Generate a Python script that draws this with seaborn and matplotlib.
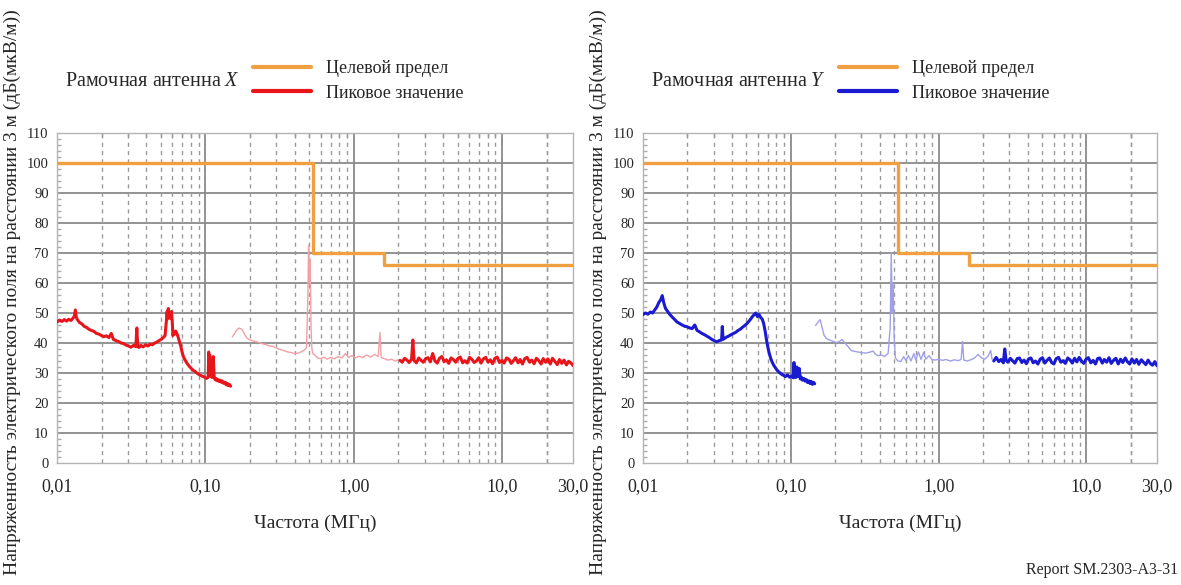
import numpy as np
import pandas as pd
import matplotlib
matplotlib.use("Agg")
import matplotlib.pyplot as plt
from matplotlib.ticker import FixedLocator, NullFormatter, MultipleLocator
import seaborn as sns

sns.set_theme(style="white")
plt.rcParams["font.family"] = ["Liberation Serif", "DejaVu Serif"]
plt.rcParams["mathtext.fontset"] = "custom"
plt.rcParams["mathtext.rm"] = "Liberation Serif"
plt.rcParams["mathtext.it"] = "Liberation Serif:italic"

# ---------------- data ----------------
# Target limit (step function), MHz / dB(uV/m)
limit_freq = [0.01, 0.53, 1.6, 30.0]
limit_level = [100, 70, 66, 66]

# Loop antenna X, peak values
x_lf_freq = [0.0100, 0.0104, 0.0108, 0.0112, 0.0116, 0.0120, 0.0124, 0.0128, 0.0131, 0.0133,
             0.0135, 0.0138, 0.0142, 0.0147, 0.0152, 0.0158, 0.0164, 0.0170, 0.0177, 0.0184,
             0.0191, 0.0199, 0.0207, 0.0215, 0.0224, 0.0232, 0.0240, 0.0250, 0.0260, 0.0270,
             0.0281, 0.0292, 0.0303, 0.0315, 0.0328, 0.0340, 0.0345, 0.0350, 0.0356, 0.0368,
             0.0380, 0.0395, 0.0410, 0.0425, 0.0440, 0.0455, 0.0470, 0.0487, 0.0503, 0.0520,
             0.0535, 0.0545, 0.0552, 0.0556, 0.0562, 0.0568, 0.0575, 0.0582, 0.0590, 0.0598,
             0.0604, 0.0612, 0.0620, 0.0630, 0.0642, 0.0655, 0.0668, 0.0682, 0.0696, 0.0710,
             0.0725, 0.0740, 0.0757, 0.0775, 0.0793, 0.0812, 0.0832, 0.0853, 0.0875, 0.0898,
             0.0921, 0.0945, 0.0970, 0.0995, 0.1020, 0.1045, 0.1052, 0.1060, 0.1068, 0.1090,
             0.1110, 0.1130, 0.1145, 0.1160, 0.1175, 0.1190, 0.1210, 0.1230, 0.1250, 0.1270,
             0.1290, 0.1310, 0.1330, 0.1350, 0.1370, 0.1390, 0.1410, 0.1430, 0.1450, 0.1480]
x_lf_level = [47.0, 47.6, 47.2, 47.8, 47.3, 47.9, 47.5, 48.2, 49.0, 51.0,
              48.5, 47.6, 46.8, 46.4, 45.6, 45.2, 44.6, 44.2, 43.9, 43.2,
              43.0, 42.5, 42.1, 42.4, 41.8, 43.2, 41.2, 40.8, 40.5, 40.0,
              39.8, 39.3, 39.0, 38.6, 39.2, 38.8, 45.0, 39.0, 38.5, 39.2,
              38.7, 39.4, 39.0, 39.6, 39.4, 40.0, 40.3, 40.8, 41.2, 41.8,
              42.5, 47.0, 50.5, 48.0, 51.5, 48.5, 50.0, 48.2, 50.5, 47.0,
              42.5, 43.5, 43.0, 44.0, 43.2, 42.0, 40.5, 39.0, 37.0, 35.5,
              34.6, 33.8, 33.0, 32.4, 31.8, 31.3, 30.8, 30.5, 30.0, 29.6,
              29.3, 29.0, 28.8, 28.5, 28.2, 28.6, 37.0, 30.0, 36.0, 29.0,
              28.5, 35.5, 29.0, 27.8, 28.2, 27.5, 27.9, 27.2, 27.6, 27.0,
              27.4, 26.7, 27.0, 26.4, 26.8, 26.0, 26.5, 25.8, 26.2, 25.6]

x_mf_freq = [0.152, 0.160, 0.168, 0.176, 0.184, 0.192, 0.200, 0.212, 0.225, 0.240,
             0.255, 0.270, 0.285, 0.300, 0.320, 0.340, 0.360, 0.380, 0.400, 0.420,
             0.440, 0.460, 0.480, 0.490, 0.496, 0.502, 0.508, 0.515, 0.522, 0.530,
             0.550, 0.570, 0.600, 0.630, 0.660, 0.700, 0.740, 0.780, 0.830, 0.880,
             0.920, 0.970, 1.020, 1.080, 1.150, 1.220, 1.300, 1.380, 1.460, 1.500,
             1.530, 1.600, 1.700, 1.800, 1.900, 2.000]
x_mf_level = [42.0, 43.8, 45.0, 44.6, 42.8, 41.5, 41.0, 40.6, 40.3, 39.8,
              39.5, 39.0, 38.9, 38.4, 37.8, 37.4, 37.0, 36.8, 36.5, 36.6,
              37.0, 37.5, 38.5, 55.0, 72.5, 60.0, 68.0, 45.0, 38.0, 36.5,
              35.8, 35.0, 34.8, 35.3, 34.6, 35.2, 34.7, 35.5, 35.0, 36.5,
              35.2, 35.8, 35.0, 35.6, 35.2, 36.0, 35.3, 36.2, 35.5, 43.5,
              35.2, 34.8, 34.3, 34.6, 34.0, 34.4]

x_hf_freq = [2.05, 2.12, 2.20, 2.28, 2.36, 2.45, 2.50, 2.55, 2.64, 2.74,
             2.84, 2.94, 3.05, 3.16, 3.28, 3.40, 3.52, 3.65, 3.78, 3.92,
             4.06, 4.21, 4.36, 4.52, 4.69, 4.86, 5.04, 5.22, 5.41, 5.61,
             5.81, 6.02, 6.24, 6.47, 6.71, 6.95, 7.20, 7.47, 7.74, 8.02,
             8.31, 8.61, 8.93, 9.25, 9.59, 9.94, 10.3, 10.7, 11.1, 11.5,
             11.9, 12.3, 12.8, 13.2, 13.7, 14.2, 14.7, 15.3, 15.8, 16.4,
             17.0, 17.6, 18.3, 18.9, 19.6, 20.3, 21.1, 21.8, 22.6, 23.5,
             24.3, 25.2, 26.1, 27.1, 28.0, 29.0, 30.0]
x_hf_level = [34.2, 33.6, 34.9, 34.3, 33.5, 34.6, 41.0, 34.1, 33.4, 35.0,
              34.2, 33.6, 34.8, 35.1, 33.7, 36.5, 34.0, 33.3, 34.9, 35.5,
              33.8, 34.4, 33.2, 35.0, 34.5, 33.6, 34.9, 35.3, 33.4, 34.1,
              33.3, 35.2, 34.6, 33.5, 34.0, 35.1, 33.3, 34.7, 35.2, 33.6,
              34.4, 33.1, 34.9, 35.3, 33.5, 34.2, 33.3, 35.0, 34.6, 33.2,
              34.1, 35.1, 33.4, 34.5, 33.0, 34.8, 35.2, 33.6, 34.3, 33.1,
              34.9, 34.2, 33.0, 34.8, 33.6, 34.7, 33.0, 34.9, 33.9, 32.8,
              34.5, 33.2, 34.3, 32.7, 33.9, 33.4, 32.5]

# Loop antenna Y, peak values
y_lf_freq = [0.0100, 0.0104, 0.0108, 0.0112, 0.0116, 0.0120, 0.0124, 0.0128, 0.0132, 0.0135,
             0.0138, 0.0142, 0.0147, 0.0152, 0.0158, 0.0164, 0.0170, 0.0177, 0.0184, 0.0191,
             0.0199, 0.0207, 0.0215, 0.0224, 0.0232, 0.0240, 0.0250, 0.0260, 0.0270, 0.0281,
             0.0292, 0.0303, 0.0315, 0.0328, 0.0340, 0.0344, 0.0348, 0.0356, 0.0368, 0.0380,
             0.0395, 0.0410, 0.0425, 0.0440, 0.0455, 0.0470, 0.0487, 0.0503, 0.0520, 0.0535,
             0.0550, 0.0565, 0.0580, 0.0595, 0.0610, 0.0625, 0.0640, 0.0655, 0.0670, 0.0685,
             0.0700, 0.0715, 0.0730, 0.0745, 0.0762, 0.0780, 0.0800, 0.0820, 0.0845, 0.0870,
             0.0895, 0.0920, 0.0950, 0.0980, 0.1010, 0.1040, 0.1050, 0.1060, 0.1080, 0.1100,
             0.1120, 0.1140, 0.1160, 0.1180, 0.1200, 0.1225, 0.1250, 0.1275, 0.1300, 0.1325,
             0.1350, 0.1375, 0.1400, 0.1425, 0.1450]
y_lf_level = [49.5, 50.0, 49.6, 50.3, 50.0, 51.0, 52.0, 53.5, 54.5, 55.8,
              53.5, 51.5, 50.5, 49.5, 48.6, 47.8, 47.0, 46.5, 46.0, 45.6,
              45.4, 45.0, 44.8, 46.0, 44.2, 43.8, 43.2, 42.8, 42.3, 41.8,
              41.2, 40.8, 40.4, 40.8, 41.0, 45.5, 41.2, 41.5, 42.0, 42.3,
              42.8, 43.2, 43.6, 44.2, 44.6, 45.2, 45.8, 46.4, 47.2, 48.0,
              48.8, 49.5, 50.0, 48.8, 49.5, 48.5, 48.0, 46.5, 44.0, 41.0,
              38.5, 36.5, 35.0, 33.8, 32.8, 32.0, 31.2, 30.6, 30.0, 29.5,
              29.2, 28.8, 29.4, 28.6, 29.0, 28.4, 33.5, 29.5, 28.5, 32.0,
              28.8, 31.5, 28.0, 28.6, 27.6, 28.2, 27.3, 27.8, 26.8, 27.4,
              26.5, 27.2, 26.2, 26.9, 26.4]

y_mf_freq = [0.147, 0.153, 0.158, 0.163, 0.168, 0.174, 0.182, 0.192, 0.202, 0.212,
             0.222, 0.232, 0.244, 0.256, 0.270, 0.285, 0.300, 0.320, 0.340, 0.360,
             0.375, 0.390, 0.410, 0.430, 0.455, 0.470, 0.478, 0.485, 0.492, 0.500,
             0.510, 0.530, 0.555, 0.580, 0.600, 0.625, 0.650, 0.680, 0.700, 0.730,
             0.760, 0.790, 0.820, 0.860, 0.900, 0.950, 1.000, 1.060, 1.120, 1.200,
             1.280, 1.360, 1.420, 1.450, 1.480, 1.560, 1.650, 1.750, 1.850, 1.950,
             2.050, 2.150, 2.250, 2.300]
y_mf_level = [45.8, 47.0, 47.8, 45.0, 42.5, 41.5, 41.0, 40.6, 40.2, 40.4,
              41.2, 40.0, 38.8, 37.5, 37.2, 37.0, 36.8, 36.6, 36.9, 37.3,
              36.2, 35.8, 36.0, 35.5, 36.5, 45.0, 70.0, 50.0, 60.0, 42.0,
              35.0, 34.0, 33.8, 35.5, 34.2, 35.8, 34.0, 36.5, 34.3, 37.0,
              34.5, 36.8, 34.6, 35.8, 34.5, 34.3, 34.6, 34.2, 34.5, 34.0,
              34.4, 34.1, 34.6, 40.5, 34.3, 34.0, 34.4, 35.0, 36.2, 35.0,
              34.6, 35.5, 37.5, 34.5]

y_hf_freq = [2.36, 2.45, 2.55, 2.64, 2.74, 2.80, 2.86, 2.94, 3.05, 3.16,
             3.28, 3.40, 3.52, 3.65, 3.78, 3.92, 4.06, 4.21, 4.36, 4.52,
             4.69, 4.86, 5.04, 5.22, 5.41, 5.61, 5.81, 6.02, 6.24, 6.47,
             6.71, 6.95, 7.20, 7.47, 7.74, 8.02, 8.31, 8.61, 8.93, 9.25,
             9.59, 9.94, 10.3, 10.7, 11.1, 11.5, 11.9, 12.3, 12.8, 13.2,
             13.7, 14.2, 14.7, 15.3, 15.8, 16.4, 17.0, 17.6, 18.3, 18.9,
             19.6, 20.3, 21.1, 21.8, 22.6, 23.5, 24.3, 25.2, 26.1, 27.1,
             28.0, 29.0, 30.0]
y_hf_level = [34.0, 35.2, 33.8, 34.5, 33.4, 38.0, 34.2, 33.6, 34.9, 34.1,
              33.3, 34.8, 35.0, 33.5, 34.3, 33.1, 34.7, 35.0, 33.4, 34.0,
              33.0, 34.6, 35.1, 33.3, 34.2, 35.0, 33.5, 33.0, 34.8, 35.2,
              33.6, 34.1, 33.2, 35.0, 34.4, 33.3, 34.9, 33.7, 35.2, 34.0,
              33.2, 34.6, 35.1, 33.4, 34.2, 33.0, 34.8, 35.0, 33.3, 34.5,
              33.6, 35.1, 33.2, 34.3, 34.9, 33.0, 34.6, 33.5, 35.0, 33.8,
              33.0, 34.7, 33.3, 34.5, 32.9, 34.4, 33.6, 32.8, 34.3, 33.1,
              32.6, 33.8, 32.4]

xtick_vals = [0.01, 0.1, 1.0, 10.0, 30.0]
xtick_labels = ["0,01", "0,10", "1,00", "10,0", "30,0"]
ytick_vals = list(range(0, 111, 10))

ORANGE = "#f0a040"
panels = [
    dict(name="X", dense="#e8161b", light="#f2a0a6",
         segs=[(x_lf_freq, x_lf_level, "dense"), (x_mf_freq, x_mf_level, "light"),
               (x_hf_freq, x_hf_level, "dense")]),
    dict(name="Y", dense="#1a1ad0", light="#a0a0ea",
         segs=[(y_lf_freq, y_lf_level, "dense"), (y_mf_freq, y_mf_level, "light"),
               (y_hf_freq, y_hf_level, "dense")]),
]

fig = plt.figure(figsize=(11.81, 5.85), dpi=100)
W, H = 1181, 585
axes_px = [(57, 573), (643, 1157)]
top_px, bot_px = 133, 463

ylabel = "Напряженность электрического поля на расстоянии 3 м (дБ(мкВ/м))"
limit_df = pd.DataFrame({"freq": limit_freq, "level": limit_level})

for (x0, x1), p in zip(axes_px, panels):
    ax = fig.add_axes([x0 / W, (H - bot_px) / H, (x1 - x0) / W, (bot_px - top_px) / H])
    ax.set_xscale("log")

    first = True
    for f, v, kind in p["segs"]:
        df = pd.DataFrame({"freq": f, "level": v})
        sns.lineplot(data=df, x="freq", y="level", ax=ax, estimator=None, sort=False,
                     color=p[kind], lw=2.2 if kind == "dense" else 1.0,
                     label="Пиковое значение" if first else None, zorder=3)
        first = False

    sns.lineplot(data=limit_df, x="freq", y="level", ax=ax, estimator=None, sort=False,
                 color=ORANGE, lw=2.4, drawstyle="steps-post", label="Целевой предел", zorder=4)

    ax.set_xlim(0.01, 30)
    ax.set_ylim(0, 110)
    ax.xaxis.set_major_locator(FixedLocator(xtick_vals))
    ax.set_xticklabels(xtick_labels)
    minor = [m * d for d in (0.01, 0.1, 1.0, 10.0) for m in range(2, 10) if m * d < 30] + [20.0]
    ax.xaxis.set_minor_locator(FixedLocator(sorted(set(minor))))
    ax.xaxis.set_minor_formatter(NullFormatter())
    ax.set_yticks(ytick_vals)
    ax.yaxis.set_minor_locator(MultipleLocator(2))

    # grid: solid at decades and every 10 dB, dashed at minor frequencies
    for d in (0.1, 1.0, 10.0):
        ax.axvline(d, color="#8a8a8a", lw=1.3, zorder=1)
    for yv in range(10, 110, 10):
        ax.axhline(yv, color="#8a8a8a", lw=1.3, zorder=1)
    for m in minor:
        ax.axvline(m, color="#9a9a9a", lw=1.0, ls=(0, (3, 3)), zorder=1)

    for s in ax.spines.values():
        s.set_color("#b4b4b4")
        s.set_linewidth(1.0)
    ax.tick_params(axis="x", which="major", length=0, labelsize=13, pad=11)
    ax.tick_params(axis="x", which="minor", top=True, bottom=False, direction="in",
                   length=3, color="#999999")
    ax.tick_params(axis="y", which="major", length=0, labelsize=10.5, pad=6)
    ax.tick_params(axis="y", which="minor", left=True, direction="in", length=3,
                   color="#aaaaaa")
    ax.set_xlabel("Частота (МГц)", fontsize=14, labelpad=14)
    ax.set_ylabel("")

    handles, labels = ax.get_legend_handles_labels()
    order = [labels.index("Целевой предел"), labels.index("Пиковое значение")]
    leg = ax.legend([handles[i] for i in order], [labels[i] for i in order],
                    loc="center left", bbox_to_anchor=(196 / (x1 - x0), 1.0 + (133 - 81) / 330),
                    frameon=False, fontsize=13, handlelength=3.2, handletextpad=0.85,
                    labelspacing=0.4, borderaxespad=0, borderpad=0)
    for line in leg.get_lines():
        line.set_linewidth(3.0)

    fig.text((x0 + 8) / W, 1 - 81 / H, "Рамочная антенна $X$" if p["name"] == "X"
             else "Рамочная антенна $Y$", fontsize=14.5, va="center", ha="left")
    fig.text((x0 - 45) / W, 1 - 292 / H, ylabel, rotation=90, fontsize=14,
             va="center", ha="center")

fig.text(1178 / W, 1 - 570 / H, "Report SM.2303-A3-31", fontsize=11.5, ha="right", va="center")

fig.savefig("out.png", dpi=100)
